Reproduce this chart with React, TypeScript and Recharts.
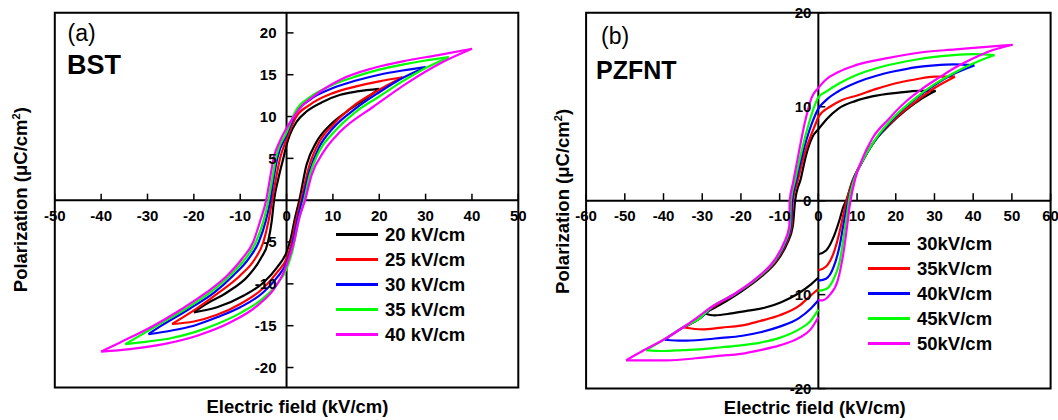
import { Legend, Line, LineChart, ReferenceArea, ReferenceLine, XAxis, YAxis } from "recharts";

type Pt = [number, number];

const FONT = '"Liberation Sans", Arial, Helvetica, sans-serif';
const COLORS = ["#000000", "#ff0000", "#0000ff", "#00ff00", "#ff00ff"];

// ---- (a) BST ----
const BST_LABELS = ["20 kV/cm", "25 kV/cm", "30 kV/cm", "35 kV/cm", "40 kV/cm"];
const BST_X_TICKS = [-50, -40, -30, -20, -10, 0, 10, 20, 30, 40, 50];
const BST_Y_TICKS = [-20, -15, -10, -5, 5, 10, 15, 20];

// each loop: upper branch (field going down) and lower branch (field going up), listed left to right
const BST_20_UP: Pt[] = [[-20, -13.4], [-17.9, -12.6], [-12.8, -11], [-8.2, -9], [-5.6, -7], [-4, -5], [-3.2, -2.5], [-2.7, 0], [-1.8, 2.5], [-0.7, 5], [0, 6.6], [0.7, 7.8], [2.2, 9.4], [4.3, 10.6], [8, 11.8], [11.6, 12.6], [15.2, 13], [20, 13.3]];
const BST_20_LO: Pt[] = [[-20, -13.4], [-15, -12.8], [-9.2, -11.4], [-4.9, -9.8], [-2, -8], [0, -6.2], [0.9, -4.6], [1.8, -2.2], [2.75, 0], [4.3, 4.2], [6.5, 7], [9.4, 9], [13, 10.6], [16.7, 12], [20, 13.3]];
const BST_25_UP: Pt[] = [[-24.7, -14.8], [-19.5, -13], [-14.5, -11], [-10, -9], [-6.8, -7], [-5, -5], [-3.9, -2.5], [-3.1, 0], [-2.3, 2.5], [-1.4, 5], [0, 7.3], [2, 9.9], [5, 11.4], [10, 12.8], [15, 13.6], [20, 14.2], [25, 14.7]];
const BST_25_LO: Pt[] = [[-24.7, -14.8], [-20, -14.5], [-15, -13.7], [-10, -12.4], [-5, -10.5], [-2, -8.6], [0, -7], [1, -5.3], [2, -2.5], [3.1, 0], [5, 4.3], [7, 6.9], [10, 9], [15, 11.5], [20, 13.2], [25, 14.7]];
const BST_30_UP: Pt[] = [[-29.8, -16], [-27, -15], [-21, -13], [-15.5, -11], [-11.5, -9], [-8.2, -7], [-6, -5], [-4.5, -2.5], [-3.5, 0], [-2.8, 2.5], [-2, 5], [0, 7.8], [2, 10.4], [5, 12], [10, 13.4], [15, 14.3], [20, 15], [25, 15.5], [30, 15.9]];
const BST_30_LO: Pt[] = [[-29.8, -16], [-25, -15.6], [-20, -15], [-15, -14], [-10, -12.8], [-5, -11], [-2, -9.2], [0, -7.5], [1.2, -5.5], [2.3, -2.5], [3.4, 0], [5, 3.5], [7, 6.3], [10, 8.6], [15, 11], [20, 12.9], [25, 14.6], [30, 15.9]];
const BST_35_UP: Pt[] = [[-34.8, -17.2], [-28, -15], [-21.8, -13], [-16.4, -11], [-12.2, -9], [-8.9, -7], [-6.6, -5], [-5, -2.5], [-3.9, 0], [-3.1, 2.5], [-2.3, 5], [0, 8.1], [2, 10.7], [5, 12.3], [10, 13.8], [15, 14.8], [20, 15.6], [25, 16.2], [30, 16.7], [35, 17.1]];
const BST_35_LO: Pt[] = [[-34.8, -17.2], [-30, -16.9], [-25, -16.5], [-20, -15.8], [-15, -14.8], [-10, -13.5], [-5, -11.7], [-2, -10], [0, -8.2], [1.3, -6], [2.6, -2.5], [3.8, 0], [5, 3], [7, 5.8], [10, 8], [15, 10.6], [20, 12.4], [25, 14.2], [30, 15.8], [35, 17.1]];
const BST_40_UP: Pt[] = [[-40, -18.1], [-35.9, -17], [-28.7, -15], [-22.6, -13], [-17.2, -11], [-12.8, -9], [-9.6, -7], [-7.2, -5], [-5.7, -2.5], [-4.4, 0], [-3.6, 2.5], [-2.8, 5], [-1.5, 7], [0, 8.6], [1.1, 9.6], [2.9, 11], [5.8, 12.4], [11.6, 14.4], [18.8, 15.8], [26, 16.7], [33.3, 17.4], [40, 18.1]];
const BST_40_LO: Pt[] = [[-40, -18.1], [-33.8, -17.8], [-26.5, -17.2], [-19.3, -16.2], [-12.1, -14.6], [-6.3, -12.6], [-2.7, -10.6], [-0.6, -8.6], [0.5, -7], [1.6, -5], [2.8, -2], [4, 0], [5.4, 3], [8, 5.8], [11.6, 8.2], [18.8, 11.2], [26, 14], [33.3, 16.4], [40, 18.1]];

// ---- (b) PZFNT ----
const PZ_LABELS = ["30kV/cm", "35kV/cm", "40kV/cm", "45kV/cm", "50kV/cm"];
const PZ_X_TICKS = [-60, -50, -40, -30, -20, -10, 0, 10, 20, 30, 40, 50, 60];
const PZ_Y_TICKS = [-20, -10, 0, 10, 20];

// each loop: rising piece (starts at E=0), upper branch, lower-left piece (ends at E=0)
const PZ_30_RISE: Pt[] = [[0, -5.7], [2, -5.3], [4, -3.8], [5.5, -2], [6.5, -0.6], [7.2, 0], [8.7, 2], [11.3, 4.1], [13.9, 6], [18.2, 8], [22.5, 9.6], [26.8, 10.9], [30.3, 11.7]];
const PZ_30_UP: Pt[] = [[-29.5, -12], [-26.8, -11.4], [-20.8, -9.9], [-14.8, -8.1], [-10.5, -6.3], [-8, -4.5], [-6.6, -2.7], [-6, 0], [-4.5, 2.4], [-3.2, 4.8], [-1.5, 6.8], [0, 7.6], [2.2, 8.7], [5.2, 9.8], [9.5, 10.6], [13.9, 11.1], [20.8, 11.5], [26, 11.7], [30.3, 11.7]];
const PZ_30_LO: Pt[] = [[-29.5, -12], [-26.8, -12.2], [-22.5, -12], [-18.2, -11.7], [-13.9, -11.4], [-9.6, -10.8], [-5.3, -9.9], [-1.9, -8.9], [0, -8.2]];
const PZ_35_RISE: Pt[] = [[0, -7.4], [2, -7], [4, -5.5], [5.5, -3.3], [6.5, -1.4], [7.3, 0], [8.8, 2], [11.3, 4.2], [15, 6.6], [20, 8.8], [25, 10.5], [30, 12], [35.3, 13.2]];
const PZ_35_UP: Pt[] = [[-34.7, -13.5], [-30.6, -12.5], [-27.4, -11.4], [-21.3, -9.9], [-15.2, -8.1], [-10.8, -6.3], [-8.3, -4.5], [-6.9, -2.7], [-6.6, 0], [-5.4, 2], [-3.7, 4.8], [-0.6, 8.3], [0, 8.9], [3, 10], [6, 10.7], [10, 11.2], [15, 11.9], [20, 12.5], [25, 12.9], [30, 13.2], [35.3, 13.2]];
const PZ_35_LO: Pt[] = [[-34.7, -13.5], [-30, -13.7], [-25, -13.5], [-20, -13.3], [-15, -12.8], [-10, -12.2], [-5, -11.2], [-2, -10.1], [0, -9.4]];
const PZ_40_RISE: Pt[] = [[0, -8.5], [2, -8.3], [4, -7], [5.5, -4.8], [6.5, -2.5], [7.7, 0], [9, 2.1], [11.5, 4.3], [15, 6.6], [20, 9], [25, 10.8], [30, 12.3], [35, 13.5], [40.3, 14.4]];
const PZ_40_UP: Pt[] = [[-39.7, -14.8], [-35, -13.5], [-30.5, -12.5], [-27.6, -11.4], [-21.4, -9.9], [-15.3, -8.1], [-11, -6.3], [-8.5, -4.5], [-7.1, -2.7], [-6.8, 0], [-5.8, 2], [-4.2, 4.8], [-1.6, 8.3], [0, 9.8], [2, 10.7], [5, 11.6], [10, 12.6], [15, 13.3], [20, 13.8], [25, 14.2], [30, 14.4], [35, 14.5], [40.3, 14.4]];
const PZ_40_LO: Pt[] = [[-39.7, -14.8], [-35, -14.9], [-30, -14.8], [-25, -14.6], [-20, -14.4], [-15, -14], [-10, -13.4], [-5, -12.5], [-2, -11.5], [0, -10.6]];
const PZ_45_RISE: Pt[] = [[0, -9.6], [2, -9.4], [4, -8.3], [5.5, -6.5], [6.5, -4], [7.5, -1.2], [7.9, 0], [9.1, 2.1], [11.5, 4.3], [15, 6.7], [20, 9.1], [25, 10.9], [30, 12.4], [35, 13.6], [40, 14.6], [45.5, 15.5]];
const PZ_45_UP: Pt[] = [[-44.5, -15.9], [-40, -14.8], [-35, -13.5], [-30.6, -12.5], [-27.8, -11.4], [-21.5, -9.9], [-15.4, -8.1], [-11.1, -6.3], [-8.7, -4.5], [-7.3, -2.7], [-7.1, 0], [-6, 2.2], [-4.6, 4.8], [-2.4, 8.3], [0, 11], [2, 11.6], [5, 12.4], [10, 13.4], [15, 14.1], [20, 14.6], [25, 15], [30, 15.3], [35, 15.5], [40, 15.6], [45.5, 15.5]];
const PZ_45_LO: Pt[] = [[-44.5, -15.9], [-40, -16], [-35, -15.9], [-30, -15.8], [-25, -15.6], [-20, -15.4], [-15, -15.1], [-10, -14.6], [-5, -13.7], [-2, -12.8], [0, -11.6]];
const PZ_50_RISE: Pt[] = [[0, -10.6], [1, -10.6], [3, -10], [5, -8.5], [6.5, -5.5], [7.5, -2.5], [8, -0.8], [8.3, 0], [9.5, 2.3], [11.3, 4.4], [13.9, 6.6], [18.2, 8.7], [22.5, 10.5], [26.8, 11.9], [31.2, 13.1], [35.5, 14.2], [39.8, 15.1], [44.2, 15.9], [50.2, 16.6]];
const PZ_50_UP: Pt[] = [[-49.7, -17], [-45, -15.9], [-40, -14.8], [-35, -13.5], [-31.5, -12.5], [-28, -11.4], [-21.6, -9.9], [-15.6, -8.1], [-11.3, -6.3], [-8.9, -4.5], [-7.5, -2.7], [-7.4, 0], [-6.5, 2], [-5.2, 4.8], [-3.5, 8.3], [-1.7, 11], [0, 12], [1.7, 12.8], [5.2, 13.7], [9.5, 14.4], [18.2, 15.2], [26.8, 15.8], [35.5, 16.1], [44.2, 16.4], [50.2, 16.6]];
const PZ_50_LO: Pt[] = [[-49.7, -17], [-45, -17], [-40, -17], [-35, -16.9], [-30, -16.7], [-25, -16.5], [-20, -16.3], [-15, -15.9], [-10, -15.4], [-5, -14.6], [-2, -13.7], [0, -12.4]];

const BST_LOOPS: Pt[][][] = [
  [BST_20_UP, BST_20_LO],
  [BST_25_UP, BST_25_LO],
  [BST_30_UP, BST_30_LO],
  [BST_35_UP, BST_35_LO],
  [BST_40_UP, BST_40_LO],
];

const PZ_LOOPS: Pt[][][] = [
  [PZ_30_RISE, PZ_30_UP, PZ_30_LO],
  [PZ_35_RISE, PZ_35_UP, PZ_35_LO],
  [PZ_40_RISE, PZ_40_UP, PZ_40_LO],
  [PZ_45_RISE, PZ_45_UP, PZ_45_LO],
  [PZ_50_RISE, PZ_50_UP, PZ_50_LO],
];

function toRows(points: Pt[]) {
  return points.map(([e, p]) => ({ e, p }));
}

const ROW = 24.8;

function LegendBox({ labels }: { labels: string[] }) {
  return (
    <svg width={150} height={ROW * labels.length}>
      {labels.map((label, i) => {
        const y = Math.round(ROW / 2 + i * ROW);
        return (
          <g key={label}>
            <line x1={0} x2={42} y1={y + 0.5} y2={y + 0.5} stroke={COLORS[i]} strokeWidth={3} />
            <text x={49} y={y + 7} fontFamily={FONT} fontSize={18.5} fontWeight={700} fill="#000">
              {label}
            </text>
          </g>
        );
      })}
    </svg>
  );
}

type PanelProps = {
  left: number;
  width: number;
  margin: { top: number; right: number; bottom: number; left: number };
  xDomain: [number, number];
  yDomain: [number, number];
  xTicks: number[];
  yTicks: number[];
  xTickLen: number;
  yTickLen: number;
  yLabelOffset: number;
  loops: Pt[][][];
  labels: string[];
  legendLeft: number;
  legendTop: number;
};

function Panel(props: PanelProps) {
  const { xDomain, yDomain } = props;
  const tickLabel = { fill: "#000", fontSize: 15, fontWeight: 700, fontFamily: FONT };
  return (
    <div style={{ position: "absolute", left: props.left, top: 0 }}>
      <LineChart width={props.width} height={420} margin={props.margin}>
        <XAxis type="number" dataKey="e" domain={xDomain} allowDataOverflow hide />
        <YAxis type="number" dataKey="p" domain={yDomain} allowDataOverflow hide />
        <ReferenceArea x1={xDomain[0]} x2={xDomain[1]} y1={yDomain[0]} y2={yDomain[1]} fill="none" fillOpacity={0} stroke="#000" strokeWidth={2} strokeOpacity={1} />
        <ReferenceLine x={0} stroke="#000" strokeWidth={2} />
        <ReferenceLine y={0} stroke="#000" strokeWidth={2} />
        {props.xTicks.map((t) => (
          <ReferenceLine
            key={`xt${t}`}
            segment={[{ x: t, y: 0 }, { x: t, y: props.xTickLen }]}
            stroke="#000"
            strokeWidth={1.5}
            label={{ value: String(t), position: "bottom", offset: 10, ...tickLabel }}
          />
        ))}
        {props.yTicks.map((t) => (
          <ReferenceLine
            key={`yt${t}`}
            segment={[{ x: 0, y: t }, { x: props.yTickLen, y: t }]}
            stroke="#000"
            strokeWidth={1.5}
            label={{ value: String(t), position: "left", offset: props.yLabelOffset, ...tickLabel }}
          />
        ))}
        {props.loops.map((branches, i) =>
          branches.map((branch, j) => (
            <Line
              key={`${i}-${j}`}
              data={toRows(branch)}
              dataKey="p"
              type="monotoneX"
              stroke={COLORS[i]}
              strokeWidth={2.2}
              dot={false}
              activeDot={false}
              legendType="none"
              isAnimationActive={false}
            />
          )),
        )}
        <Legend
          layout="vertical"
          align="center"
          verticalAlign="middle"
          wrapperStyle={{ left: props.legendLeft, top: props.legendTop, width: 150, lineHeight: 0 }}
          content={() => <LegendBox labels={props.labels} />}
        />
      </LineChart>
    </div>
  );
}

function Texts() {
  const title = { fontFamily: FONT, fontSize: 18.5, fontWeight: 700, fill: "#000" };
  return (
    <svg width={1058} height={420} style={{ position: "absolute", left: 0, top: 0, pointerEvents: "none" }}>
      <text x={67.5} y={41} fontFamily={FONT} fontSize={23} fill="#000">(a)</text>
      <text x={67} y={74} fontFamily={FONT} fontSize={27} fontWeight={700} fill="#000">BST</text>
      <text x={601} y={44} fontFamily={FONT} fontSize={23} fill="#000">(b)</text>
      <text x={596} y={79} fontFamily={FONT} fontSize={25} fontWeight={700} fill="#000">PZFNT</text>

      <text x={297.5} y={412.5} textAnchor="middle" {...title}>Electric field (kV/cm)</text>
      <text x={814.8} y={414} textAnchor="middle" {...title}>Electric field (kV/cm)</text>

      <text x={27} y={199.7} textAnchor="middle" transform="rotate(-90 27 199.7)" {...title}>
        Polarization (μC/cm<tspan dy={-7} fontSize={11}>2</tspan>
        <tspan dy={7}>)</tspan>
      </text>
      <text x={569} y={201.4} textAnchor="middle" transform="rotate(-90 569 201.4)" {...title}>
        Polarization (μC/cm<tspan dy={-7} fontSize={11}>2</tspan>
        <tspan dy={7}>)</tspan>
      </text>
    </svg>
  );
}

export default function App() {
  return (
    <div style={{ position: "absolute", left: 0, top: 0, width: 1058, height: 420, background: "#fff", overflow: "hidden" }}>
      <Panel
        left={0}
        width={530}
        margin={{ top: 12.8, right: 11.7, bottom: 32.4, left: 54.8 }}
        xDomain={[-50, 50]}
        yDomain={[-22.4, 22.4]}
        xTicks={BST_X_TICKS}
        yTicks={BST_Y_TICKS}
        xTickLen={0.78}
        yTickLen={1.5}
        yLabelOffset={10}
        loops={BST_LOOPS}
        labels={BST_LABELS}
        legendLeft={336}
        legendTop={222}
      />
      <Panel
        left={530}
        width={528}
        margin={{ top: 12.8, right: 7.4, bottom: 31.4, left: 56.1 }}
        xDomain={[-60, 60]}
        yDomain={[-20, 20]}
        xTicks={PZ_X_TICKS}
        yTicks={PZ_Y_TICKS}
        xTickLen={0.8}
        yTickLen={1.8}
        yLabelOffset={7}
        loops={PZ_LOOPS}
        labels={PZ_LABELS}
        legendLeft={338}
        legendTop={231}
      />
      <Texts />
    </div>
  );
}
